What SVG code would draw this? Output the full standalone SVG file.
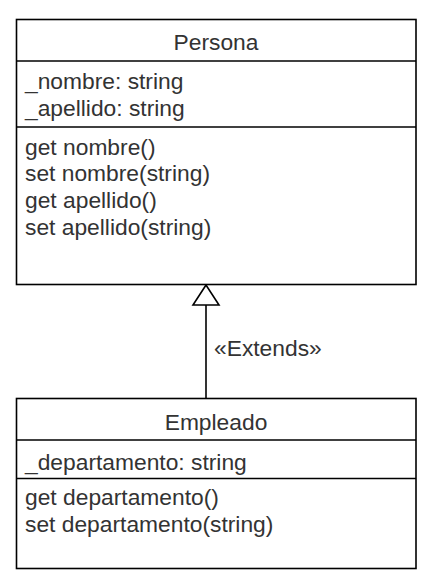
<svg xmlns="http://www.w3.org/2000/svg" width="431" height="585" viewBox="0 0 431 585">
<defs>
<style>
.box{fill:#fff;stroke:#000;stroke-width:1.6}
.sep{stroke:#000;stroke-width:1.6;fill:none}
.t{font-family:"Liberation Sans",Arial,sans-serif;font-size:22.8px;fill:#333}
.c{text-anchor:middle}
</style>
</defs>
<rect width="431" height="585" fill="#fff"/>
<g id="connectors">
<line x1="206" y1="305" x2="206" y2="398.5" class="sep"/>
<path d="M206,285 L193,305 L219,305 Z" fill="#fff" stroke="#000" stroke-width="1.6"/>
<text x="214" y="356" class="t">«Extends»</text>
</g>
<g id="persona">
<rect x="16.5" y="19.5" width="399.5" height="265" class="box"/>
<line x1="16.5" y1="61" x2="416" y2="61" class="sep"/>
<line x1="16.5" y1="127" x2="416" y2="127" class="sep"/>
<text x="216" y="50" class="t c">Persona</text>
<text x="25" y="88.5" class="t">_nombre: string</text>
<text x="25" y="115.5" class="t">_apellido: string</text>
<text x="25" y="154.5" class="t">get nombre()</text>
<text x="25" y="181" class="t">set nombre(string)</text>
<text x="25" y="207.5" class="t">get apellido()</text>
<text x="25" y="234.5" class="t">set apellido(string)</text>
</g>
<g id="empleado">
<rect x="16.5" y="398.5" width="399.5" height="170" class="box"/>
<line x1="16.5" y1="440" x2="416" y2="440" class="sep"/>
<line x1="16.5" y1="478.5" x2="416" y2="478.5" class="sep"/>
<text x="216" y="430" class="t c">Empleado</text>
<text x="25" y="469.5" class="t">_departamento: string</text>
<text x="25" y="504.5" class="t">get departamento()</text>
<text x="25" y="531.5" class="t">set departamento(string)</text>
</g>
</svg>
